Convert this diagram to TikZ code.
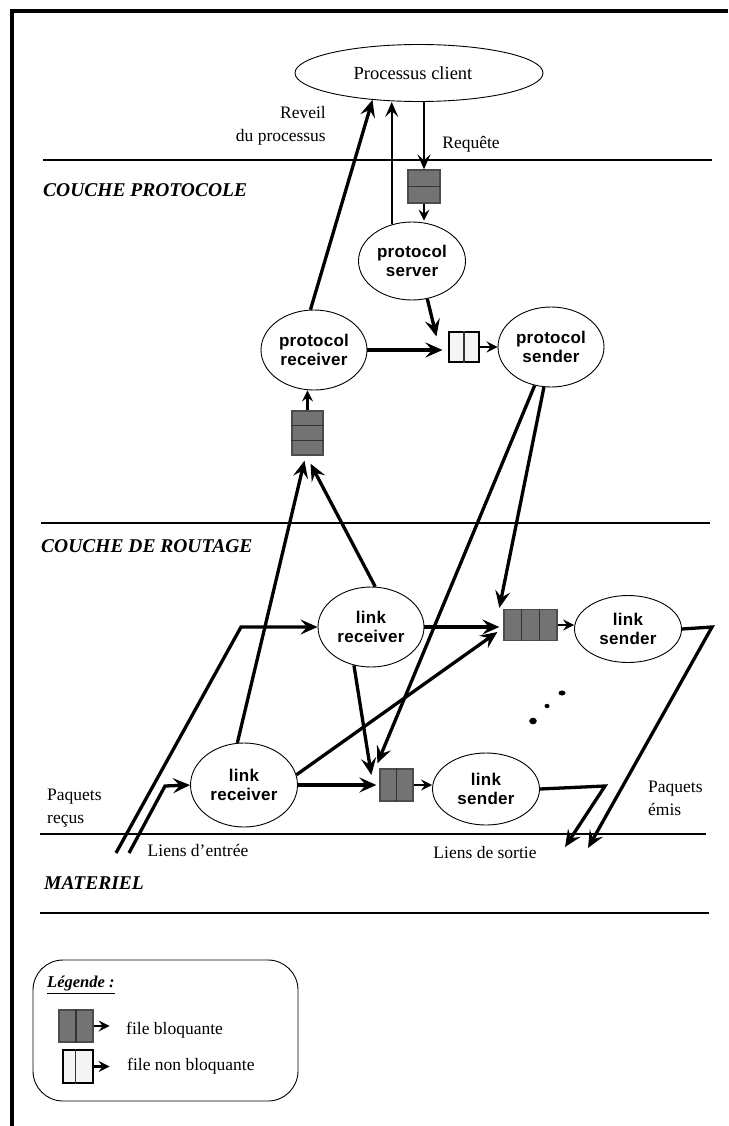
\documentclass[tikz,border=0pt]{standalone}
\usepackage{fontspec}
\setmainfont{Liberation Serif}
\newfontfamily\nodefont[LetterSpace=1.5]{Liberation Sans}
\usetikzlibrary{shapes.geometric,arrows.meta,calc}
\begin{document}
\begin{tikzpicture}[x=1pt,y=-1pt,
  proc/.style={ellipse,draw,line width=0.9pt,inner sep=0pt,align=center,
    font={\nodefont\bfseries\fontsize{17}{19}\selectfont}},
  bq/.style={rectangle,draw=black!70,fill=black!55,line width=1.3pt,inner sep=0pt},
  nbq/.style={rectangle,draw=black,fill=black!4,line width=1.1pt,inner sep=0pt},
  qline/.style={draw=black!80,line width=1.1pt},
  sep/.style={line width=2.4pt},
  bigtip/.style={-{Stealth[length=17pt,width=15pt,inset=6.5pt]}},
  thickarr/.style={line width=3.3pt,bigtip},
  thinarr/.style={line width=1.6pt,-{Stealth[length=15pt,width=13pt,inset=6pt]}},
  smallarr/.style={line width=2.4pt,-{Stealth[length=11pt,width=11pt,inset=4pt]}},
  lbl/.style={font={\fontsize{17.5}{23}\selectfont},inner sep=0pt},
  layer/.style={font={\bfseries\itshape\fontsize{19.5}{22}\selectfont},inner sep=0pt,anchor=west}
]
\useasboundingbox (0,0) rectangle (728,1126);
% frame
\draw[line width=3.3pt] (728,11) -- (12,11) -- (12,1126);
% separators
\draw[sep] (43,160) -- (712,160);
\draw[sep] (41,523) -- (710,523);
\draw[sep] (40,834) -- (706,834);
\draw[sep] (40,913) -- (709,913);
% layer titles
\node[layer] (t1) at (43,190) {COUCHE PROTOCOLE};
\node[layer] (t2) at (41,546) {COUCHE DE ROUTAGE};
\node[layer] (t3) at (44,883) {MATERIEL};

% processes
\node[proc,minimum width=248pt,minimum height=57pt,font={\fontsize{18.5}{20}\selectfont}] (pc) at (419,73) {Processus client\hspace*{12pt}};
\node[proc,minimum width=107pt,minimum height=78pt] (ps) at (412,261) {protocol\\server};
\node[proc,minimum width=106pt,minimum height=80pt] (pr) at (314,350) {protocol\\receiver};
\node[proc,minimum width=106pt,minimum height=80pt] (psd) at (551,347) {protocol\\sender};
\node[proc,minimum width=106pt,minimum height=80pt] (lr1) at (371,627) {link\\receiver};
\node[proc,minimum width=107pt,minimum height=84pt] (lr2) at (244,785) {link\\receiver};
\node[proc,minimum width=107pt,minimum height=67pt] (ls1) at (628,629) {link\\sender};
\node[proc,minimum width=107pt,minimum height=72pt] (ls2) at (486,789) {link\\sender};

% queues
\node[bq,minimum width=32pt,minimum height=33pt] (q1) at (424,186.5) {};
\draw[qline] (q1.west) -- (q1.east);
\node[nbq,minimum width=30pt,minimum height=30pt] (q2) at (464,347) {};
\draw[qline] (q2.north) -- (q2.south);
\node[bq,minimum width=31pt,minimum height=44pt] (q3) at (307.5,433) {};
\draw[qline] ($(q3.north west)!1/3!(q3.south west)$) -- ($(q3.north east)!1/3!(q3.south east)$);
\draw[qline] ($(q3.north west)!2/3!(q3.south west)$) -- ($(q3.north east)!2/3!(q3.south east)$);
\node[bq,minimum width=53pt,minimum height=31pt] (q4) at (530.5,625) {};
\draw[qline] ($(q4.north west)!1/3!(q4.north east)$) -- ($(q4.south west)!1/3!(q4.south east)$);
\draw[qline] ($(q4.north west)!2/3!(q4.north east)$) -- ($(q4.south west)!2/3!(q4.south east)$);
\node[bq,minimum width=33pt,minimum height=32pt] (q5) at (396.5,785) {};
\draw[qline] (q5.north) -- (q5.south);

% labels
\node[lbl,align=right,anchor=east] (lrev) at (326,126) {Reveil\\du processus};
\node[lbl] (lreq) at (471,144) {Requête};
\node[lbl,align=left,anchor=west] (lpr) at (47,808) {Paquets\\reçus};
\node[lbl,align=left,anchor=west] (lpe) at (648,798) {Paquets\\émis};
\node[lbl] (lle) at (198,850) {Liens d'entrée};
\node[lbl] (lls) at (485,853) {Liens de sortie};

% connectors: protocol layer
\draw[thickarr] (pr.95) -- (pc.210);
\draw[thinarr] (ps.119) -- (ps.119 |- pc.south);
\draw[thinarr] (q1.north |- pc.south) -- (q1.north);
\draw[smallarr] (q1.south) -- ($(q1.south)+(0,17)$) coordinate (q1e);
\draw[thickarr] (ps.292) -- ($(q2.north west)+(-12,5)$);
\draw[thickarr] (pr.east) -- ($(pr.east -| q2.west)+(-6,0)$);
\draw[smallarr] (q2.east) -- (q2.east -| psd.west);
\draw[smallarr] (q3.north) -- (q3.north |- pr.south);

% connectors between layers
\draw[thickarr] (lr2.99) -- ($(q3.south)+(-3,5)$);
\draw[thickarr] (lr1.84) -- ($(q3.south)+(3,8)$);
\draw[thickarr] (psd.247) -- ($(q5.north west)+(-2,-5)$);
\draw[thickarr] (psd.260) -- ($(q4.north west)+(-4,-1)$);

% routing layer
\coordinate (i1s) at (116,853);
\coordinate (i1c) at (241,627);
\coordinate (i2s) at (129,853);
\coordinate (i2c) at (165,786);
\draw[thickarr] (i1s) -- (i1c) -- (lr1.west);
\draw[thickarr] (i2s) -- (i2c) -- (lr2.west);
\draw[thickarr] (lr1.east) -- ($(lr1.east -| q4.west)+(-4,0)$);
\draw[thickarr] (lr1.246) -- ($(q5.west)+(-8,-10)$);
\draw[thickarr] (lr2.11.5) -- ($(q4.west)+(-6,7)$);
\draw[thickarr] (lr2.east) -- ($(lr2.east -| q5.west)+(-3,0)$);
\draw[smallarr] (q4.east) -- (q4.east -| ls1.west);
\draw[smallarr] (q5.east) -- (q5.east -| ls2.west);
\coordinate (o1c) at (712,627);
\coordinate (o1e) at (588,848);
\coordinate (o2c) at (605,786);
\coordinate (o2e) at (565,847);
\draw[thickarr,line join=miter] (ls1.east) -- (o1c) -- (o1e);
\draw[thickarr,line join=miter] (ls2.east) -- (o2c) -- (o2e);
% dots
\fill (562,693) ellipse (3.5pt and 2.5pt);
\fill (547,706) ellipse (2.5pt and 2.2pt);
\fill (533,721) ellipse (3.8pt and 3.3pt);

% legend
\draw[line width=0.9pt,rounded corners=30pt] (33,960) rectangle (298,1101);
\node[font={\bfseries\itshape\fontsize{16.5}{18}\selectfont},inner sep=0pt,anchor=west] (lg) at (47,985) {\underline{Légende :}};
\node[bq,minimum width=34pt,minimum height=32pt] (lq1) at (76,1026) {};
\draw[qline] (lq1.north) -- (lq1.south);
\node[nbq,minimum width=30pt,minimum height=33pt] (lq2) at (78,1066.5) {};
\draw[qline] ($(lq2.north west)!0.43!(lq2.north east)$) -- ($(lq2.south west)!0.43!(lq2.south east)$);
\draw[smallarr] (lq1.east) -- ($(lq1.east)+(16,0)$) coordinate (lq1e);
\draw[smallarr] (lq2.east) -- ($(lq2.east)+(16,0)$) coordinate (lq2e);
\node[lbl,anchor=west] (lt1) at (126,1030) {file bloquante};
\node[lbl,anchor=west] (lt2) at (127,1066) {file non bloquante};
\end{tikzpicture}
\end{document}
